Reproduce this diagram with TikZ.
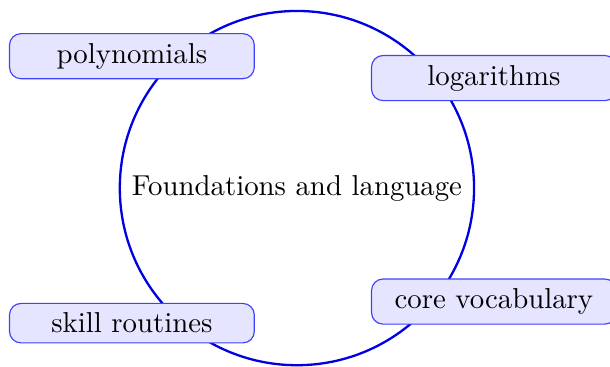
\documentclass[tikz,border=0pt]{standalone}
\usetikzlibrary{positioning}
\tikzset{
  topicbox/.style={draw=blue!75, fill=blue!10, rounded corners, minimum width=85pt},
  hubcircle/.style={circle, draw=blue!90!black, thick, minimum size=123pt, inner sep=0pt}
}
\begin{document}
\begin{tikzpicture}[x=10pt,y=10pt]
   \useasboundingbox (-10.31,-6.18) rectangle (10.87,6.53);
   \node[hubcircle] (hub) at (0,0) {Foundations and language};

   \node[topicbox] (poly) at (-5.73,4.58) {polynomials};
   \node[topicbox] (logs) at (6.84,3.82) {logarithms};
   \node[topicbox] (vocab) at (6.84,-3.94) {core vocabulary};
   \node[topicbox] (skill) at (-5.73,-4.69) {skill routines};
\end{tikzpicture}
\end{document}
